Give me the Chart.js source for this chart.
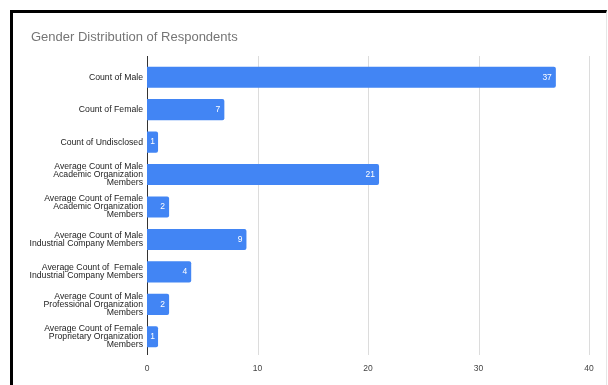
<!DOCTYPE html>
<html>
<head>
<meta charset="utf-8">
<script src="https://cdn.jsdelivr.net/npm/chart.js@4.4.0/dist/chart.umd.min.js"></script>
<style>
  html, body { margin: 0; padding: 0; background: #fff; }
  #wrap { position: relative; width: 608px; height: 385px; overflow: hidden; }
  #frame { position: absolute; left: 10px; top: 10px; right: 1px; bottom: -5px;
           border-left: 3px solid #000; border-top: 3px solid #000; border-right: 1px solid #e6e6e6; }
  canvas { position: absolute; left: 0; top: 0; }
</style>
</head>
<body>
<div id="wrap">
  <div id="frame"></div>
  <canvas id="c" width="608" height="385"></canvas>
</div>
<script>
const chartTitle = "Gender Distribution of Respondents";
const categories = [
  ["Count of Male"],
  ["Count of Female"],
  ["Count of Undisclosed"],
  ["Average Count of Male", "Academic Organization", "Members"],
  ["Average Count of Female", "Academic Organization", "Members"],
  ["Average Count of Male", "Industrial Company Members"],
  ["Average Count of  Female", "Industrial Company Members"],
  ["Average Count of Male", "Professional Organization", "Members"],
  ["Average Count of Female", "Proprietary Organization", "Members"]
];
const values = [37, 7, 1, 21, 2, 9, 4, 2, 1];
const xTicks = [0, 10, 20, 30, 40];

const titlePlugin = {
  id: 'customTitle',
  afterDraw(chart) {
    const ctx = chart.ctx;
    ctx.save();
    ctx.font = '13px "Liberation Sans", Arial, sans-serif';
    ctx.fillStyle = '#757575';
    ctx.textAlign = 'left';
    ctx.textBaseline = 'middle';
    ctx.fillText(chartTitle, 31, 37);
    ctx.restore();
  }
};

// vertical grid lines drawn from the x scale, slightly taller than the plot area
const gridPlugin = {
  id: 'gridLines',
  beforeDatasetsDraw(chart) {
    const ctx = chart.ctx;
    const area = chart.chartArea;
    const xs = chart.scales.x;
    ctx.save();
    ctx.lineWidth = 1;
    xTicks.forEach((v, i) => {
      const px = Math.round(xs.getPixelForValue(v)) + 0.5;
      ctx.strokeStyle = i === 0 ? '#333' : '#dcdcdc';
      ctx.beginPath();
      ctx.moveTo(px, area.top - 5);
      ctx.lineTo(px, area.bottom + 2);
      ctx.stroke();
    });
    ctx.restore();
  }
};

const labelPlugin = {
  id: 'barLabels',
  afterDatasetsDraw(chart) {
    const ctx = chart.ctx;
    const meta = chart.getDatasetMeta(0);
    ctx.save();
    ctx.font = '8.5px "Liberation Sans", Arial, sans-serif';
    ctx.fillStyle = '#ffffff';
    ctx.textBaseline = 'middle';
    meta.data.forEach((bar, i) => {
      const txt = String(values[i]);
      const w = ctx.measureText(txt).width;
      const barW = bar.x - bar.base;
      if (barW > w + 10) {
        ctx.textAlign = 'right';
        ctx.fillText(txt, bar.x - 4, bar.y);
      } else {
        ctx.textAlign = 'center';
        ctx.fillText(txt, (bar.x + bar.base) / 2, bar.y);
      }
    });
    ctx.restore();
  }
};

new Chart(document.getElementById('c'), {
  type: 'bar',
  data: {
    labels: categories,
    datasets: [{
      data: values,
      backgroundColor: '#4285F4',
      borderRadius: 2,
      borderSkipped: 'start',
      barPercentage: 0.65,
      categoryPercentage: 1.0
    }]
  },
  options: {
    indexAxis: 'y',
    responsive: false,
    animation: false,
    devicePixelRatio: 1,
    layout: { padding: { left: 0, right: 19, top: 61, bottom: 0 } },
    plugins: {
      legend: { display: false },
      title: { display: false },
      tooltip: { enabled: false }
    },
    scales: {
      x: {
        min: 0, max: 40,
        afterBuildTicks(scale) { scale.ticks = xTicks.map(v => ({ value: v })); },
        afterFit(scale) { scale.height = 32; },
        grid: { display: false, drawTicks: false },
        border: { display: false },
        ticks: {
          padding: 11,
          color: '#444',
          font: { size: 8.5, family: '"Liberation Sans", Arial, sans-serif' }
        }
      },
      y: {
        afterFit(scale) { scale.width = 147; },
        grid: { display: false, drawTicks: false },
        border: { display: false },
        ticks: {
          padding: 4,
          color: '#222',
          autoSkip: false,
          font: { size: 8.7, family: '"Liberation Sans", Arial, sans-serif', lineHeight: 0.92 }
        }
      }
    }
  },
  plugins: [titlePlugin, gridPlugin, labelPlugin]
});
</script>
</body>
</html>
